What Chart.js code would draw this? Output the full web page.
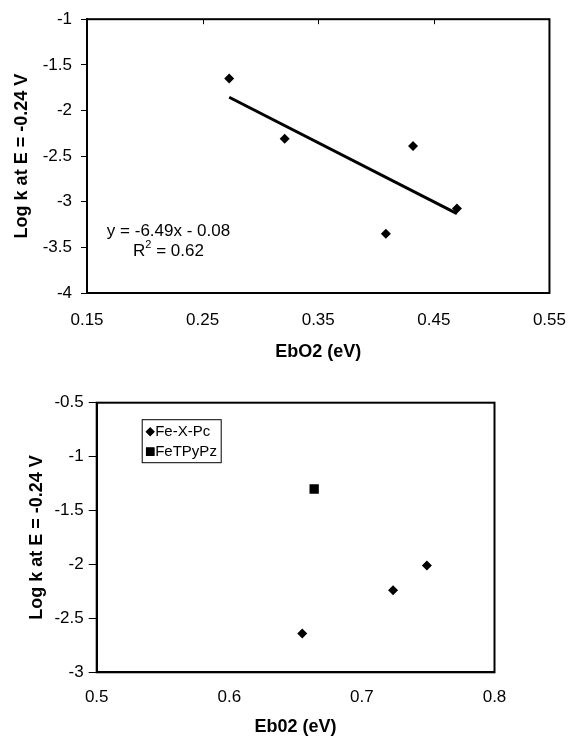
<!DOCTYPE html>
<html><head><meta charset="utf-8">
<script src="https://cdn.jsdelivr.net/npm/chart.js@4.4.1/dist/chart.umd.min.js"></script>
<style>
html,body{margin:0;padding:0;background:#fff;}
#wrap{position:relative;width:583px;height:736px;background:#fff;}
canvas{position:absolute;left:0;}
</style></head><body>
<div id="wrap">
<canvas id="c1" width="583" height="368" style="top:0px"></canvas>
<canvas id="c2" width="583" height="368" style="top:368px"></canvas>
</div>
<script>
// ---------- Top chart data ----------
const topX = [0.273, 0.321, 0.432, 0.4085, 0.470];
const topY = [-1.65, -2.31, -2.39, -3.35, -3.075];
const trendX = [0.273, 0.470];
const trendY = [-1.855, -3.13];
const topXTicks = [0.15, 0.25, 0.35, 0.45, 0.55];
const topXTickLabels = ['0.15', '0.25', '0.35', '0.45', '0.55'];
const topYTicks = [-4, -3.5, -3, -2.5, -2, -1.5, -1];
const topYTickLabels = ['-4', '-3.5', '-3', '-2.5', '-2', '-1.5', '-1'];
const topXTitle = 'EbO2 (eV)';
const topYTitle = 'Log k at E = -0.24 V';
const eqLine1 = 'y = -6.49x - 0.08';
const eqLine2 = ['R', '2', ' = 0.62'];

// ---------- Bottom chart data ----------
const seriesNames = ['Fe-X-Pc', 'FeTPyPz'];
const pcX = [0.655, 0.7235, 0.749];
const pcY = [-2.64, -2.24, -2.01];
const pzX = [0.664];
const pzY = [-1.30];
const botXTicks = [0.5, 0.6, 0.7, 0.8];
const botXTickLabels = ['0.5', '0.6', '0.7', '0.8'];
const botYTicks = [-3, -2.5, -2, -1.5, -1, -0.5];
const botYTickLabels = ['-3', '-2.5', '-2', '-1.5', '-1', '-0.5'];
const botXTitle = 'Eb02 (eV)';
const botYTitle = 'Log k at E = -0.24 V';

const FONT = "'Liberation Sans', Arial, sans-serif";

function pts(xs, ys) { return xs.map((x, i) => ({ x: x, y: ys[i] })); }
function fixTicks(vals) { return function (scale) { scale.ticks = vals.map(v => ({ value: v })); }; }
function labelFrom(vals, labels) { return function (v) { const i = vals.findIndex(t => Math.abs(t - v) < 1e-9); return i >= 0 ? labels[i] : ''; }; }

const boxPlugin = {
  id: 'boxPlugin',
  afterDatasetsDraw(chart, args, opts) {
    const { ctx, chartArea: a } = chart;
    ctx.save();
    ctx.strokeStyle = '#000';
    ctx.lineWidth = 2;
    ctx.strokeRect(a.left, a.top, a.right - a.left, a.bottom - a.top);
    if (opts.topTicks) {
      const xs = chart.scales.x;
      ctx.lineWidth = 1;
      xs.ticks.forEach(t => {
        if (t.value <= xs.min + 1e-9 || t.value >= xs.max - 1e-9) return;
        const px = Math.round(xs.getPixelForValue(t.value)) + 0.5;
        ctx.beginPath(); ctx.moveTo(px, a.top); ctx.lineTo(px, a.top + 5); ctx.stroke();
      });
    }
    ctx.restore();
  }
};

const eqPlugin = {
  id: 'eqPlugin',
  afterDraw(chart) {
    const { ctx, chartArea: a } = chart;
    ctx.save();
    ctx.fillStyle = '#000';
    ctx.textBaseline = 'middle';
    const big = '17px ' + FONT, small = '11px ' + FONT;
    ctx.font = big;
    const cx = a.left + 81.5;
    ctx.textAlign = 'center';
    ctx.fillText(eqLine1, cx, 231);
    ctx.textAlign = 'left';
    const w0 = ctx.measureText(eqLine2[0]).width;
    const w2 = ctx.measureText(eqLine2[2]).width;
    ctx.font = small;
    const w1 = ctx.measureText(eqLine2[1]).width;
    const total = w0 + w1 + w2;
    let x = cx - total / 2;
    ctx.font = big;
    ctx.fillText(eqLine2[0], x, 251); x += w0;
    ctx.font = small;
    ctx.fillText(eqLine2[1], x, 245); x += w1;
    ctx.font = big;
    ctx.fillText(eqLine2[2], x, 251);
    ctx.restore();
  }
};

const legendPlugin = {
  id: 'insideLegend',
  afterDraw(chart) {
    const { ctx, chartArea: a } = chart;
    const bx = a.left + 45, by = a.top + 16.5, bw = 79, bh = 43;
    ctx.save();
    ctx.fillStyle = '#fff';
    ctx.fillRect(bx, by, bw, bh);
    ctx.strokeStyle = '#000';
    ctx.lineWidth = 1;
    ctx.strokeRect(bx + 0.5, by + 0.5, bw, bh);
    ctx.font = '15px ' + FONT;
    ctx.textBaseline = 'middle';
    ctx.textAlign = 'left';
    ctx.fillStyle = '#000';
    chart.data.datasets.forEach((ds, i) => {
      const y = by + 12.5 + i * 20;
      const mx = bx + 8.5;
      Chart.helpers.drawPoint(ctx, { pointStyle: ds.pointStyle, radius: ds.pointStyle === 'rect' ? 6 : 4.5, borderWidth: 0 }, mx, y);
      ctx.fillStyle = '#000';
      ctx.fill();
      ctx.fillText(ds.label, bx + 13.5, y + 0.5);
    });
    ctx.restore();
  }
};

// ---------- Top chart ----------
new Chart(document.getElementById('c1'), {
  type: 'scatter',
  data: {
    datasets: [
      { label: 'data', data: pts(topX, topY), pointStyle: 'rectRot', pointRadius: 5, pointHoverRadius: 5,
        backgroundColor: '#000', borderColor: '#000', borderWidth: 0 },
      { label: 'trend', data: pts(trendX, trendY), showLine: true, pointRadius: 0, borderColor: '#000',
        borderWidth: 3, backgroundColor: '#000' }
    ]
  },
  options: {
    responsive: false, animation: false, devicePixelRatio: 1,
    layout: { padding: { left: 0, right: 21, top: 18.5, bottom: 0 } },
    plugins: { legend: { display: false }, tooltip: { enabled: false }, boxPlugin: { topTicks: true } },
    scales: {
      x: {
        type: 'linear', min: 0.15, max: 0.55,
        afterBuildTicks: fixTicks(topXTicks),
        afterFit: s => { s.height = 75; },
        grid: { display: true, drawOnChartArea: false, drawTicks: false },
        border: { display: true, color: '#000', width: 2 },
        ticks: { callback: labelFrom(topXTicks, topXTickLabels), color: '#000', font: { size: 17, family: FONT }, padding: 17, maxRotation: 0, autoSkip: false },
        title: { display: true, text: topXTitle, color: '#000', font: { size: 18, weight: 'bold', family: FONT, lineHeight: 1.2 }, padding: { top: 0, bottom: 5 } }
      },
      y: {
        type: 'linear', min: -4, max: -1,
        afterBuildTicks: fixTicks(topYTicks),
        afterFit: s => { s.width = 87; },
        grid: { display: true, drawOnChartArea: false, drawTicks: true, tickLength: 6, color: '#000', tickWidth: 1 },
        border: { display: true, color: '#000', width: 2 },
        ticks: { callback: labelFrom(topYTicks, topYTickLabels), color: '#000', font: { size: 17, family: FONT }, padding: 9, autoSkip: false },
        title: { display: true, text: topYTitle, color: '#000', font: { size: 18, weight: 'bold', family: FONT, lineHeight: 1.2 }, padding: { top: 11, bottom: 0 } }
      }
    }
  },
  plugins: [boxPlugin, eqPlugin]
});

// ---------- Bottom chart ----------
new Chart(document.getElementById('c2'), {
  type: 'scatter',
  data: {
    datasets: [
      { label: seriesNames[0], data: pts(pcX, pcY), pointStyle: 'rectRot', pointRadius: 5, pointHoverRadius: 5,
        backgroundColor: '#000', borderColor: '#000', borderWidth: 0 },
      { label: seriesNames[1], data: pts(pzX, pzY), pointStyle: 'rect', pointRadius: 6.6, pointHoverRadius: 6.6,
        backgroundColor: '#000', borderColor: '#000', borderWidth: 0 }
    ]
  },
  options: {
    responsive: false, animation: false, devicePixelRatio: 1,
    layout: { padding: { left: 0, right: 88.5, top: 34.7, bottom: 0 } },
    plugins: { legend: { display: false }, tooltip: { enabled: false }, boxPlugin: { topTicks: false } },
    scales: {
      x: {
        type: 'linear', min: 0.5, max: 0.8,
        afterBuildTicks: fixTicks(botXTicks),
        afterFit: s => { s.height = 63.7; },
        grid: { display: true, drawOnChartArea: false, drawTicks: false },
        border: { display: true, color: '#000', width: 2 },
        ticks: { callback: labelFrom(botXTicks, botXTickLabels), color: '#000', font: { size: 17, family: FONT }, padding: 14.5, maxRotation: 0, autoSkip: false },
        title: { display: true, text: botXTitle, color: '#000', font: { size: 18, weight: 'bold', family: FONT, lineHeight: 1 }, padding: { top: 0, bottom: 0 } }
      },
      y: {
        type: 'linear', min: -3, max: -0.5,
        afterBuildTicks: fixTicks(botYTicks),
        afterFit: s => { s.width = 96.7; },
        grid: { display: true, drawOnChartArea: false, drawTicks: true, tickLength: 8, color: '#000', tickWidth: 1 },
        border: { display: true, color: '#000', width: 2 },
        ticks: { callback: labelFrom(botYTicks, botYTickLabels), color: '#000', font: { size: 17, family: FONT }, padding: 5, autoSkip: false },
        title: { display: true, text: botYTitle, color: '#000', font: { size: 18, weight: 'bold', family: FONT, lineHeight: 1.2 }, padding: { top: 26, bottom: 0 } }
      }
    }
  },
  plugins: [boxPlugin, legendPlugin]
});
</script>
</body></html>
